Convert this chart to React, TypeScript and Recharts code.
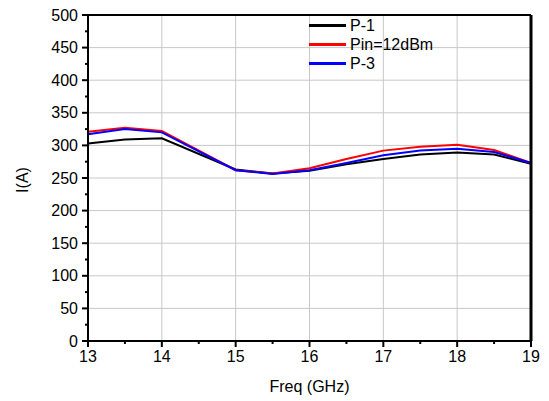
import { CartesianGrid, Label, Line, LineChart, XAxis, YAxis } from "recharts";

// frequency points (GHz)
const freqs = [13, 13.5, 14, 15, 15.5, 16, 16.5, 17, 17.5, 18, 18.5, 19];
// currents (A)
const p1 = [303, 309, 311, 263, 257, 261, 271, 279, 286, 289, 286, 272];
const pin12 = [321, 327, 322, 262, 257, 265, 279, 292, 298, 301, 293, 273];
const p3 = [317, 325, 320, 262, 256, 262, 273, 285, 292, 295, 290, 273];

const xMajor = [13, 14, 15, 16, 17, 18, 19];
const xTicks = [13, 13.5, 14, 14.5, 15, 15.5, 16, 16.5, 17, 17.5, 18, 18.5, 19];
const yMajor = [0, 50, 100, 150, 200, 250, 300, 350, 400, 450, 500];
const yTicks = [
  0, 25, 50, 75, 100, 125, 150, 175, 200, 225, 250, 275, 300, 325, 350, 375, 400, 425, 450, 475, 500,
];

const series = [
  { key: "p1", name: "P-1", color: "#000000" },
  { key: "pin12", name: "Pin=12dBm", color: "#ff0000" },
  { key: "p3", name: "P-3", color: "#0000ff" },
];

const data = freqs.map((f, i) => ({ f, p1: p1[i], pin12: pin12[i], p3: p3[i] }));

const FONT = '"Liberation Sans", Arial, sans-serif';
const TICK = 6;
const GAP = 4;

function XTick({ x, y, payload }: any) {
  const major = xMajor.includes(payload.value);
  const axisY = y - TICK - GAP;
  return (
    <g>
      <line x1={x} x2={x} y1={axisY} y2={axisY + (major ? TICK : 3)} stroke="#000" strokeWidth={2} />
      {major && (
        <text x={x} y={y} dy="0.71em" textAnchor="middle" fontSize={16} fontFamily={FONT} fill="#000">
          {payload.value}
        </text>
      )}
    </g>
  );
}

function YTick({ x, y, payload }: any) {
  const major = yMajor.includes(payload.value);
  const axisX = x + TICK + GAP;
  return (
    <g>
      <line x1={axisX} x2={axisX - (major ? TICK : 3)} y1={y} y2={y} stroke="#000" strokeWidth={2} />
      {major && (
        <text x={x} y={y} dy="0.355em" textAnchor="end" fontSize={16} fontFamily={FONT} fill="#000">
          {payload.value}
        </text>
      )}
    </g>
  );
}

export default function App() {
  return (
    <div style={{ position: "relative", width: 541, height: 393 }}>
      <LineChart width={541} height={393} data={data} margin={{ top: 2, right: 8, left: 0, bottom: 6 }}>
        <CartesianGrid
          stroke="#c8c8c8"
          strokeWidth={1}
          horizontalValues={yMajor}
          verticalValues={xMajor}
        />
        <XAxis
          dataKey="f"
          type="number"
          domain={[13, 19]}
          ticks={xTicks}
          interval={0}
          tickSize={TICK}
          tickMargin={GAP}
          tickLine={false}
          tick={<XTick />}
          height={54}
          axisLine={{ stroke: "#000", strokeWidth: 2 }}
        >
          <Label
            content={({ viewBox }: any) => (
              <text
                x={viewBox.x + viewBox.width / 2}
                y={viewBox.y + 51}
                textAnchor="middle"
                fontSize={16}
                fontFamily={FONT}
                fill="#000"
              >
                Freq (GHz)
              </text>
            )}
          />
        </XAxis>
        <XAxis
          xAxisId="top"
          orientation="top"
          dataKey="f"
          type="number"
          domain={[13, 19]}
          ticks={xTicks}
          interval={0}
          tick={false}
          tickSize={3}
          height={5}
          tickLine={{ stroke: "#000" }}
          axisLine={{ stroke: "#000", strokeWidth: 2 }}
        />
        <YAxis
          domain={[0, 500]}
          ticks={yTicks}
          interval={0}
          width={80}
          tickSize={TICK}
          tickMargin={GAP}
          tickLine={false}
          tick={<YTick />}
          axisLine={{ stroke: "#000", strokeWidth: 2 }}
        >
          <Label
            content={({ viewBox }: any) => {
              const cx = viewBox.x + 14;
              const cy = viewBox.y + viewBox.height / 2 + 2;
              return (
                <text
                  x={cx}
                  y={cy}
                  transform={`rotate(-90 ${cx} ${cy})`}
                  textAnchor="middle"
                  dominantBaseline="central"
                  fontSize={16}
                  fontFamily={FONT}
                  fill="#000"
                >
                  I(A)
                </text>
              );
            }}
          />
        </YAxis>
        <YAxis
          yAxisId="right"
          orientation="right"
          domain={[0, 500]}
          ticks={yTicks}
          interval={0}
          width={10}
          tick={false}
          tickSize={3}
          tickLine={{ stroke: "#000" }}
          axisLine={{ stroke: "#000", strokeWidth: 3 }}
        />
        {series.map((s) => (
          <Line
            key={s.key}
            dataKey={s.key}
            name={s.name}
            stroke={s.color}
            strokeWidth={2}
            dot={false}
            activeDot={false}
            isAnimationActive={false}
          />
        ))}
      </LineChart>
      <div
        style={{
          position: "absolute",
          left: 301,
          top: 8,
          fontFamily: FONT,
          fontSize: 16,
          lineHeight: "19px",
          background: "transparent",
        }}
      >
        {series.map((s) => (
          <div key={s.key} style={{ display: "flex", alignItems: "center", height: 19 }}>
            <div style={{ width: 37, height: 3, background: s.color, marginRight: 4 }} />
            <span>{s.name}</span>
          </div>
        ))}
      </div>
    </div>
  );
}
